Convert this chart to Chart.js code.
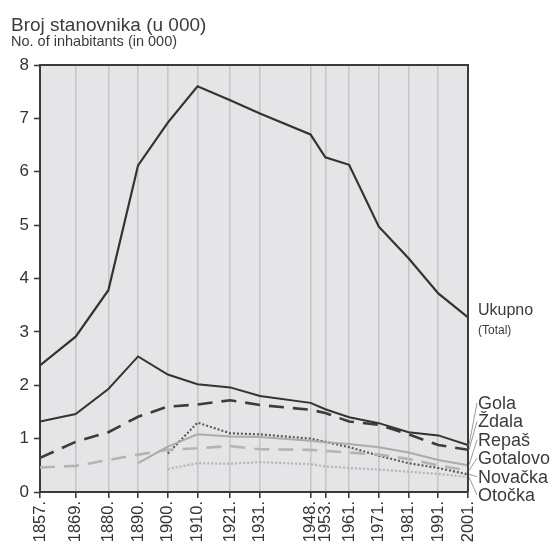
<!DOCTYPE html>
<html>
<head>
<meta charset="utf-8">
<script src="https://cdn.jsdelivr.net/npm/chart.js@4.4.0/dist/chart.umd.min.js"></script>
<style>
  html, body { margin: 0; padding: 0; background: #fff; }
  #wrap { position: relative; width: 558px; height: 550px; overflow: hidden;
          font-family: "Liberation Sans", Arial, sans-serif; color: #3c3c3c; }
  canvas { position: absolute; left: 0; top: 0; }
  .ttl { position: absolute; left: 11px; top: 15px; font-size: 19px; line-height: 19px; white-space: nowrap; }
  .sub { position: absolute; left: 11px; top: 34px; font-size: 14.5px; line-height: 14px; white-space: nowrap; }
  .lbl { position: absolute; left: 478px; white-space: nowrap; }
</style>
</head>
<body>
<div id="wrap">
  <canvas id="chart" width="558" height="550"></canvas>
  <div class="ttl">Broj stanovnika (u 000)</div>
  <div class="sub">No. of inhabitants (in 000)</div>
  <div id="labels"></div>
</div>
<script>
const YEARS = [1857, 1869, 1880, 1890, 1900, 1910, 1921, 1931, 1948, 1953, 1961, 1971, 1981, 1991, 2001];
const Y_TICKS = [0, 1, 2, 3, 4, 5, 6, 7, 8];

const UKUPNO   = [2.37, 2.91, 3.78, 6.12, 6.92, 7.60, 7.34, 7.09, 6.70, 6.27, 6.13, 4.97, 4.38, 3.72, 3.27];
const GOLA     = [1.32, 1.46, 1.93, 2.54, 2.20, 2.02, 1.96, 1.80, 1.67, 1.55, 1.40, 1.29, 1.12, 1.06, 0.88];
const ZDALA    = [0.64, 0.94, 1.12, 1.41, 1.60, 1.64, 1.72, 1.63, 1.54, 1.48, 1.32, 1.26, 1.08, 0.88, 0.79];
const REPAS    = [null, null, null, 0.54, 0.85, 1.08, 1.04, 1.03, 0.96, 0.93, 0.90, 0.84, 0.74, 0.60, 0.50];
const GOTALOVO = [0.46, 0.49, 0.60, 0.70, 0.79, 0.82, 0.86, 0.80, 0.79, 0.77, 0.74, 0.70, 0.62, 0.50, 0.40];
const NOVACKA  = [null, null, null, null, 0.72, 1.30, 1.10, 1.08, 1.00, 0.94, 0.84, 0.68, 0.54, 0.45, 0.33];
const OTOCKA   = [null, null, null, null, 0.43, 0.54, 0.53, 0.56, 0.52, 0.48, 0.45, 0.42, 0.38, 0.34, 0.28];

const DARK = '#333';
const LIGHT = '#ababab';
const FONT = '"Liberation Sans", Arial, sans-serif';

const series = [
  { name: 'Ukupno',   values: UKUPNO,   color: DARK,      width: 2.2, dash: [] },
  { name: 'Gola',     values: GOLA,     color: DARK,      width: 2,   dash: [] },
  { name: 'Ždala',    values: ZDALA,    color: '#3c3c3c', width: 2.6, dash: [15, 9] },
  { name: 'Repaš',    values: REPAS,    color: LIGHT,     width: 2,   dash: [] },
  { name: 'Gotalovo', values: GOTALOVO, color: '#b4b4b4', width: 2.6, dash: [15, 9] },
  { name: 'Novačka',  values: NOVACKA,  color: '#5a5a5a', width: 2.2, dash: [2, 2] },
  { name: 'Otočka',   values: OTOCKA,   color: '#b4b4b4', width: 2.2, dash: [2, 2] },
];

// village names stacked at the right, each tied to its line end by a thin leader
const LABEL_TOP = 394, LABEL_STEP = 18.4;
document.getElementById('labels').innerHTML =
  `<div class="lbl" style="top:302px;font-size:16px;line-height:16px">Ukupno</div>
   <div class="lbl" style="top:324px;font-size:12px;line-height:12px">(Total)</div>` +
  series.slice(1).map((s, i) =>
    `<div class="lbl" style="top:${LABEL_TOP + i * LABEL_STEP}px;font-size:18px;line-height:18px">${s.name}</div>`
  ).join('');

const plotBg = {
  id: 'plotBg',
  beforeDraw(chart) {
    const { ctx, chartArea: a } = chart;
    ctx.save();
    ctx.fillStyle = '#e5e5e7';
    ctx.fillRect(a.left, a.top, a.right - a.left, a.bottom - a.top);
    ctx.restore();
  }
};

const frame = {
  id: 'frame',
  afterDraw(chart) {
    const { ctx, chartArea: a } = chart;
    const y = chart.scales.y;
    ctx.save();
    ctx.strokeStyle = '#3a3a3a';
    ctx.lineWidth = 2;
    ctx.beginPath();
    ctx.moveTo(a.left, a.top);
    ctx.lineTo(a.right, a.top);
    ctx.lineTo(a.right, a.bottom);
    ctx.stroke();

    ctx.strokeStyle = '#9a9a9a';
    ctx.lineWidth = 1;
    series.slice(1).forEach((s, i) => {
      const last = s.values[s.values.length - 1];
      const ly = LABEL_TOP + i * LABEL_STEP + 9;
      ctx.beginPath();
      ctx.moveTo(a.right + 1, y.getPixelForValue(last));
      ctx.lineTo(a.right + 9, ly);
      ctx.stroke();
    });
    ctx.restore();
  }
};

new Chart(document.getElementById('chart').getContext('2d'), {
  type: 'line',
  data: {
    datasets: series.map(s => ({
      label: s.name,
      data: YEARS.map((yr, i) => ({ x: yr, y: s.values[i] })),
      borderColor: s.color,
      borderWidth: s.width,
      borderDash: s.dash,
      pointRadius: 0,
      tension: 0,
      fill: false,
    }))
  },
  options: {
    responsive: false,
    animation: false,
    layout: { padding: { top: 65, right: 90, left: 0, bottom: 0 } },
    plugins: { legend: { display: false }, tooltip: { enabled: false } },
    scales: {
      x: {
        type: 'linear', min: YEARS[0], max: YEARS[YEARS.length - 1],
        afterBuildTicks: s => { s.ticks = YEARS.map(v => ({ value: v })); },
        afterFit: s => { s.height = 58; },
        ticks: {
          autoSkip: false, maxRotation: 90, minRotation: 90, padding: 3,
          color: '#333', font: { family: FONT, size: 16.5 },
          callback: v => v + '.'
        },
        grid: { color: '#c6c6c8', lineWidth: 1.6, tickColor: '#333', tickLength: 6, tickWidth: 1.5 },
        border: { color: '#3a3a3a', width: 2 }
      },
      y: {
        min: 0, max: 8,
        afterBuildTicks: s => { s.ticks = Y_TICKS.map(v => ({ value: v })); },
        afterFit: s => { s.width = 40; },
        ticks: { color: '#333', padding: 5, font: { family: FONT, size: 17 } },
        grid: { drawOnChartArea: false, tickColor: '#333', tickLength: 6, tickWidth: 1.5 },
        border: { color: '#3a3a3a', width: 2 }
      }
    }
  },
  plugins: [plotBg, frame]
});
</script>
</body>
</html>
